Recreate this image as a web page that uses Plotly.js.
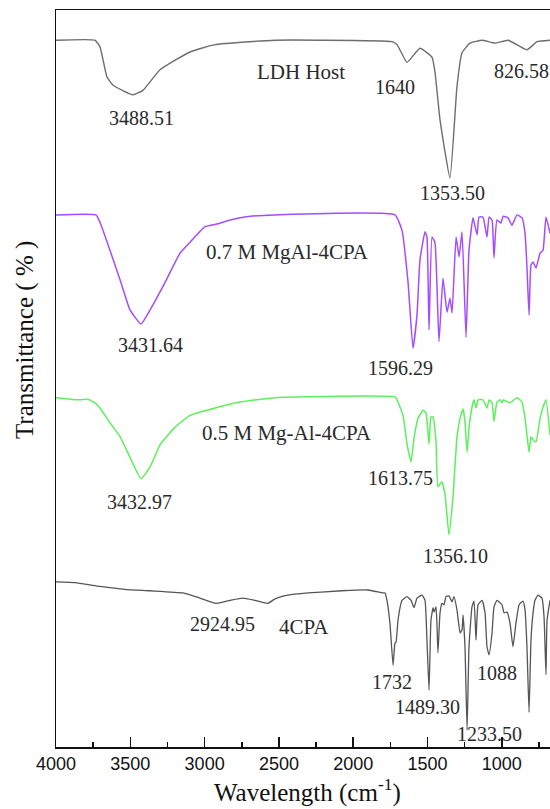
<!DOCTYPE html>
<html>
<head>
<meta charset="utf-8">
<script src="https://cdn.plot.ly/plotly-3.0.1.min.js"></script>
<style>
html,body{margin:0;padding:0;background:#fff;overflow:hidden;}
#chart{width:550px;height:809px;}
</style>
</head>
<body>
<div id="chart"></div>
<script>
// Wavenumbers (cm-1) and stacked transmittance values (offset, %)
const ldhWn = [4000,3738,3704,3657,3616,3482,3415,3300,3098,2930,2695,2526,2224,1739,1705,1638,1551,1470,1450,1416,1349,1302,1268,1214,1133,1046,958,831,763,676];
const ldhT  = [95.9,95.9,95.0,90.9,89.8,88.5,89.1,91.9,94.3,95.3,95.7,95.9,95.9,95.7,95.3,92.9,94.8,93.6,91.6,85.1,77.2,89.6,94.2,95.5,95.9,95.5,95.9,94.6,95.7,95.9];

const mg07Wn = [4000,3731,3704,3637,3569,3502,3428,3367,3267,3166,3098,2997,2910,2829,2695,2526,1719,1672,1631,1598,1571,1551,1517,1504,1490,1470,1450,1423,1396,1369,1349,1335,1308,1288,1268,1241,1221,1194,1167,1154,1127,1100,1086,1066,1053,1033,1006,992,958,932,898,864,844,831,817,804,790,770,743,723,703,676];
const mg07T  = [72.2,72.2,71.2,67.4,63.4,59.3,57.4,59.3,63.0,67.0,68.5,70.6,71.0,71.5,72.0,72.2,72.2,70.1,63.0,54.1,58.6,66.1,69.9,69.2,56.6,69.2,68.4,55.0,63.6,59.0,60.9,58.9,69.2,66.5,69.9,55.6,67.4,71.8,69.5,71.9,71.9,69.2,71.9,71.5,66.4,71.5,71.1,72.0,71.8,70.8,72.2,71.8,69.7,65.1,58.6,65.4,65.8,65.0,67.0,67.4,71.9,69.7];

const mg05Wn = [4000,3839,3785,3738,3704,3637,3569,3502,3428,3367,3300,3199,3098,2930,2762,2526,1719,1705,1665,1638,1611,1591,1564,1530,1510,1490,1477,1463,1443,1430,1403,1382,1356,1329,1302,1281,1261,1248,1234,1221,1201,1187,1174,1160,1127,1100,1086,1066,1053,1033,1012,999,992,945,898,864,844,831,817,804,790,770,743,723,703,676];
const mg05T  = [47.4,47.1,47.2,46.7,46.0,44.0,42.1,39.3,36.4,38.0,41.0,43.4,45.0,46.0,46.8,47.4,47.5,47.1,45.0,41.1,38.7,41.9,44.6,45.7,45.3,41.1,44.8,44.8,41.4,35.3,36.0,34.2,28.8,33.9,42.0,44.6,45.9,44.1,40.0,43.3,46.1,47.1,46.0,47.1,47.1,46.0,47.1,46.7,44.2,46.8,47.1,46.7,47.1,46.7,47.4,46.8,44.6,42.3,40.0,42.1,41.7,41.4,44.6,46.1,47.1,42.3];

const cpaWn = [4000,3872,3704,3536,3367,3145,3031,2923,2829,2742,2661,2573,2526,2439,2304,2076,1901,1800,1786,1773,1753,1732,1719,1712,1699,1672,1638,1611,1591,1571,1537,1517,1504,1490,1477,1463,1456,1443,1436,1430,1416,1403,1389,1376,1356,1335,1322,1302,1281,1268,1261,1248,1234,1221,1201,1187,1174,1160,1133,1113,1100,1086,1066,1053,1033,999,985,965,945,925,905,884,858,844,831,817,804,790,777,757,730,716,703,696,676];
const cpaT  = [22.4,22.3,21.8,21.4,21.2,20.9,20.2,19.5,19.9,20.2,19.9,19.5,20.1,20.6,20.9,21.2,21.3,20.9,20.9,19.9,16.8,11.1,14.1,14.2,17.2,19.9,20.4,19.9,18.9,20.2,20.6,19.9,14.5,7.7,17.2,18.9,18.3,19.0,16.3,12.8,18.2,19.5,19.3,20.4,20.5,19.7,20.4,18.6,15.5,15.9,17.9,13.6,2.3,13.6,19.0,19.8,14.5,19.3,19.9,18.2,13.6,12.5,15.5,19.0,19.9,19.3,18.2,18.3,16.8,13.6,16.8,19.3,19.8,18.6,13.6,4.7,14.5,18.2,19.9,20.6,20.2,17.6,9.8,17.2,19.9];

// Peak / sample labels: text, wavenumber, value
const labelText = ["3488.51","LDH Host","1640","1353.50","826.58",
  "0.7 M MgAl-4CPA","3431.64","1596.29",
  "0.5 M Mg-Al-4CPA","3432.97","1613.75","1356.10",
  "2924.95","4CPA","1732","1489.30","1088","1233.50"];
const labelWn = [3428,2351,1719,1329,871, 2439,3367,1685, 2446,3435,1685,1315, 2883,2331,1739,1503,1032,1080];
const labelT  = [85.3,91.6,89.6,75.2,91.7, 67.2,54.5,51.4, 42.6,33.2,36.5,25.9, 16.7,16.3,8.8,5.4,10.0,1.8];
const nameLabels = ["LDH Host","0.7 M MgAl-4CPA","0.5 M Mg-Al-4CPA","4CPA"];

const serif = "Liberation Serif, Times New Roman, serif";
const sans = "Liberation Sans, Arial, sans-serif";

function tr(x, y, color, w) {
  return {x: x, y: y, type: 'scatter', mode: 'lines',
    line: {color: color, width: w, shape: 'spline', smoothing: 0.4},
    hoverinfo: 'skip', showlegend: false};
}

const data = [
  tr(ldhWn, ldhT, '#6e6e6e', 1.4),
  tr(mg07Wn, mg07T, '#a44dff', 1.5),
  tr(mg05Wn, mg05T, '#5cf05c', 1.5),
  tr(cpaWn, cpaT, '#555555', 1.3)
];

const annotations = labelText.map((t, i) => ({
  x: labelWn[i], y: labelT[i], xref: 'x', yref: 'y', text: t, showarrow: false,
  xanchor: 'center', yanchor: 'middle',
  font: {family: serif, size: nameLabels.includes(t) ? 21 : 20, color: '#2a2a2a'}
}));
annotations.push({
  x: -0.063, y: 0.552, xref: 'paper', yref: 'paper', text: 'Transmittance ( % )',
  textangle: -90, showarrow: false, xanchor: 'center', yanchor: 'middle',
  font: {family: serif, size: 25, color: '#111'}
});
annotations.push({
  x: 0.51, y: -0.059, xref: 'paper', yref: 'paper', text: 'Wavelength (cm<sup>-1</sup>)',
  showarrow: false, xanchor: 'center', yanchor: 'middle',
  font: {family: serif, size: 25, color: '#111'}
});

const layout = {
  width: 550, height: 809,
  margin: {l: 56, r: 0, t: 10, b: 62},
  paper_bgcolor: '#fff', plot_bgcolor: '#fff',
  xaxis: {
    range: [4000, 676], showline: true, linecolor: '#111', linewidth: 1.5, mirror: true,
    ticks: 'inside', ticklen: 10, tickwidth: 1.5, tickcolor: '#111',
    tick0: 0, dtick: 500,
    minor: {dtick: 250, ticks: 'inside', ticklen: 5, tickwidth: 1.5, tickcolor: '#111'},
    showgrid: false, zeroline: false,
    tickfont: {family: sans, size: 18, color: '#111'}
  },
  yaxis: {
    range: [0, 100], showline: true, linecolor: '#111', linewidth: 1.5,
    ticks: '', showticklabels: false, showgrid: false, zeroline: false
  },
  annotations: annotations
};

Plotly.newPlot('chart', data, layout, {displayModeBar: false, staticPlot: true});
</script>
</body>
</html>
